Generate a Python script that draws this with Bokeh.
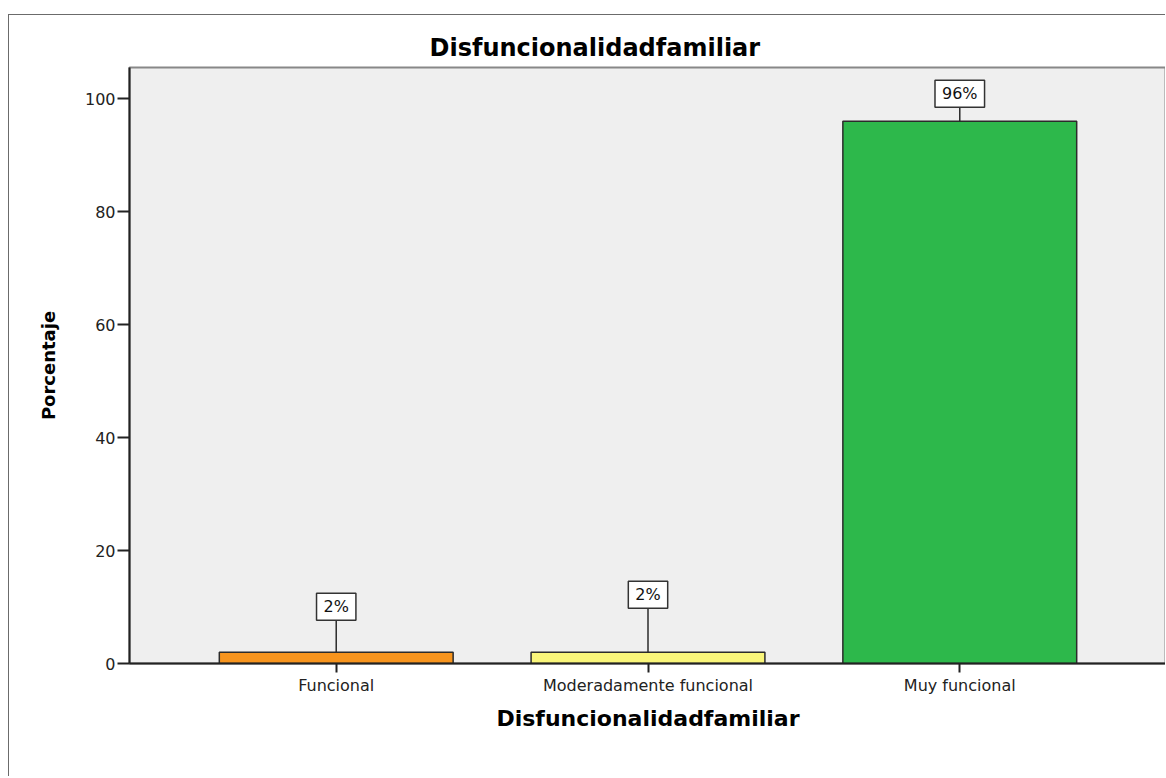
from bokeh.plotting import figure
from bokeh.models import ColumnDataSource, Range1d, FactorRange, Title
from bokeh.core.properties import value
from bokeh.embed import file_html
from bokeh.resources import INLINE

# ---- data ----
categories = ["Funcional", "Moderadamente funcional", "Muy funcional"]
percentages = [2, 2, 96]
label_texts = ["2%", "2%", "96%"]
y_ticks = [0, 20, 40, 60, 80, 100]

# ---- style / layout ----
bar_colors = ["#F7941D", "#FAF67A", "#2DB84B"]
label_offset_px = [32, 44, 14]   # callout lengths in pixels
Y_END = 105.5
FRAME_H = 596
ppu = FRAME_H / Y_END

FONT = "DejaVu Sans"

p = figure(
    x_range=FactorRange(*categories, range_padding=0.1087),
    y_range=Range1d(0, Y_END),
    width=1157, height=762,
    min_border_left=120, min_border_top=52, min_border_right=0, min_border_bottom=114,
    output_backend="svg", toolbar_location=None,
)
p.styles = {"border-left": "1px solid #6b6b6b", "border-top": "1px solid #6b6b6b",
            "margin-top": "14px", "margin-left": "8px", "box-sizing": "border-box"}

p.background_fill_color = "#EFEFEF"
p.border_fill_color = "white"
p.outline_line_color = "#888888"
p.outline_line_width = 2
p.xgrid.visible = False
p.ygrid.visible = False

leader_top = [v + o / ppu for v, o in zip(percentages, label_offset_px)]
src = ColumnDataSource(dict(cat=categories, val=percentages, color=bar_colors,
                            txt=label_texts, top=leader_top))

p.vbar(x="cat", top="val", width=0.75, source=src, fill_color="color",
       line_color="#2b2b2b", line_width=1.5)
p.segment(x0="cat", y0="val", x1="cat", y1="top", source=src,
          line_color="#2b2b2b", line_width=1.5)

p.text(x="cat", y="top", text="txt", source=src,
       text_align="center", text_baseline="bottom",
       text_font=value(FONT), text_font_size="16px", text_color="#111111",
       background_fill_color="white", border_line_color="#333333",
       border_line_width=1.5, padding=(7, 4))

# title
t = Title(text="Disfuncionalidadfamiliar", align="left", offset=300,
          text_font=FONT, text_font_size="24px", text_font_style="bold",
          text_color="black", standoff=12)
p.add_layout(t, "above")

# y axis
p.yaxis.ticker = y_ticks
p.yaxis.axis_label = "Porcentaje"
p.yaxis.axis_label_text_font = FONT
p.yaxis.axis_label_text_font_size = "18px"
p.yaxis.axis_label_text_font_style = "bold"
p.yaxis.axis_label_text_color = "black"
p.yaxis.axis_label_standoff = 23
p.yaxis.major_label_text_font = FONT
p.yaxis.major_label_text_font_size = "16px"
p.yaxis.major_label_text_color = "#222222"
p.yaxis.major_tick_out = 12
p.yaxis.major_tick_in = 0
p.yaxis.minor_tick_out = 0
p.yaxis.minor_tick_in = 0
p.yaxis.major_label_standoff = 2
p.yaxis.axis_line_color = "#222222"
p.yaxis.axis_line_width = 2
p.yaxis.major_tick_line_color = "#222222"
p.yaxis.major_tick_line_width = 2

# x axis
p.xaxis.axis_label = "Disfuncionalidadfamiliar"
p.xaxis.axis_label_text_font = FONT
p.xaxis.axis_label_text_font_size = "22px"
p.xaxis.axis_label_text_font_style = "bold"
p.xaxis.axis_label_text_color = "black"
p.xaxis.axis_label_standoff = 8
p.xaxis.major_label_text_font = FONT
p.xaxis.major_label_text_font_size = "16px"
p.xaxis.major_label_text_color = "#222222"
p.xaxis.major_tick_out = 9
p.xaxis.major_tick_in = 0
p.xaxis.major_label_standoff = 3
p.xaxis.axis_line_color = "#222222"
p.xaxis.axis_line_width = 2
p.xaxis.major_tick_line_color = "#222222"
p.xaxis.major_tick_line_width = 2

open("out.html", "w").write(file_html(p, INLINE))
